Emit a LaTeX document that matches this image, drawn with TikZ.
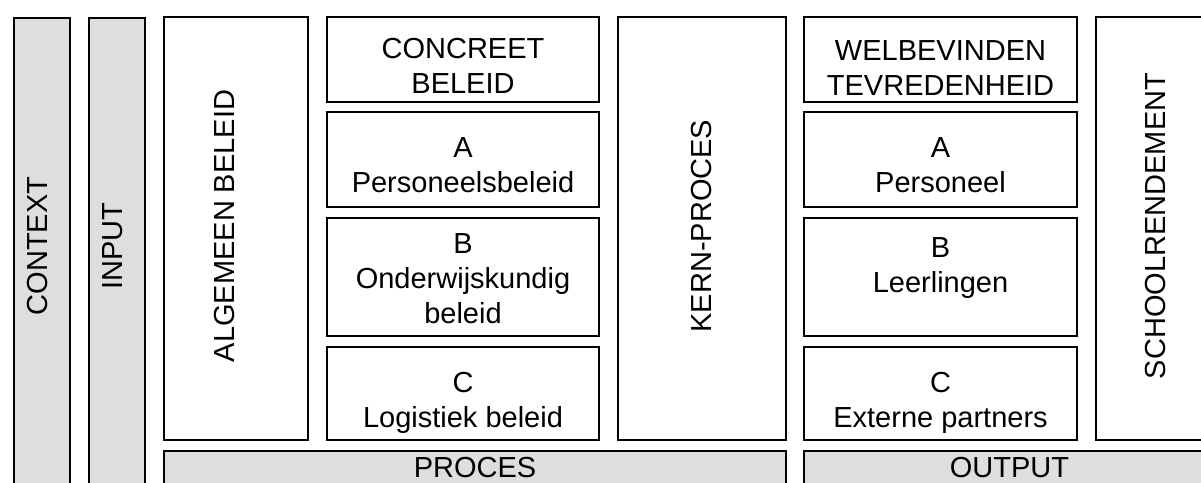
\documentclass[tikz,border=0pt]{standalone}
\usepackage{fontspec}
\setmainfont{Liberation Sans}
\definecolor{barfill}{RGB}{222,222,222}
\begin{document}
\begin{tikzpicture}[x=1pt,y=-1pt,
  txt/.style={font=\fontsize{29}{35}\selectfont, align=center, inner sep=0pt},
  box/.style={draw, line width=2pt, fill=white, rectangle, inner sep=0pt},
  bar/.style={box, fill=barfill},
  vlabel/.style={txt, rotate=90},
  toplabel/.style={txt, anchor=north}]
\useasboundingbox (0,0) rectangle (1201,482);
\clip (0,0) rectangle (1201,482);

% grey side bars running off the bottom edge
\node[bar, anchor=north, minimum width=56pt, minimum height=500pt] (context) at (42,17) {};
\node[vlabel] (contextlabel) at (38,246) {CONTEXT};
\node[bar, anchor=north, minimum width=56pt, minimum height=500pt] (input) at (117,17) {};
\node[vlabel] (inputlabel) at (113,246) {INPUT};

% tall boxes with vertical titles
\node[box, minimum width=144pt, minimum height=423pt] (algemeen) at (236,228.5) {};
\node[vlabel] (algemeenlabel) at (225,226) {ALGEMEEN BELEID};
\node[box, minimum width=168pt, minimum height=423pt] (kern) at (702,228.5) {};
\node[vlabel] (kernlabel) at (702,226) {KERN-PROCES};
\node[box, minimum width=119pt, minimum height=423pt] (school) at (1155.5,228.5) {};
\node[vlabel] (schoollabel) at (1155,226) {SCHOOLRENDEMENT};

% policy column
\node[box, minimum width=272pt, minimum height=85pt] (concreet) at (463,59.5) {};
\node[box, minimum width=272pt, minimum height=95pt] (pa) at (463,159.5) {};
\node[box, minimum width=272pt, minimum height=118pt] (pb) at (463,277) {};
\node[box, minimum width=272pt, minimum height=93pt] (pc) at (463,393.5) {};
\node[toplabel] (concreetlabel) at ([yshift=-22pt]concreet.north) {CONCREET\\BELEID};
\node[toplabel] (palabel) at ([yshift=-26pt]pa.north) {A\\Personeelsbeleid};
\node[toplabel] (pblabel) at ([yshift=-16pt]pb.north) {B\\Onderwijskundig\\beleid};
\node[toplabel] (pclabel) at ([yshift=-26pt]pc.north) {C\\Logistiek beleid};

% satisfaction column
\node[box, minimum width=273pt, minimum height=85pt] (welbevinden) at (940.5,59.5) {};
\node[box, minimum width=273pt, minimum height=95pt] (oa) at (940.5,159.5) {};
\node[box, minimum width=273pt, minimum height=118pt] (ob) at (940.5,277) {};
\node[box, minimum width=273pt, minimum height=93pt] (oc) at (940.5,393.5) {};
\node[toplabel] (welbevindenlabel) at ([yshift=-24pt]welbevinden.north) {WELBEVINDEN\\TEVREDENHEID};
\node[toplabel] (oalabel) at ([yshift=-26pt]oa.north) {A\\Personeel};
\node[toplabel] (oblabel) at ([yshift=-20pt]ob.north) {B\\Leerlingen};
\node[toplabel] (oclabel) at ([yshift=-26pt]oc.north) {C\\Externe partners};

% bottom bars
\node[bar, minimum width=622pt, minimum height=36pt] (proces) at (475,469) {};
\node[txt] (proceslabel) at (475,468) {PROCES};
\node[bar, minimum width=411pt, minimum height=36pt] (output) at (1009.5,469) {};
\node[txt] (outputlabel) at (1009.5,468) {OUTPUT};
\end{tikzpicture}
\end{document}
